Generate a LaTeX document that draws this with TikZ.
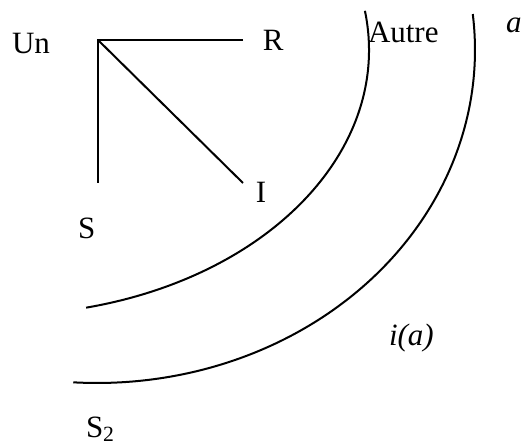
\documentclass[tikz,border=0pt]{standalone}
\usepackage{fontspec}
\setmainfont{Liberation Serif}

\begin{document}
\begin{tikzpicture}[x=0.5pt,y=0.5pt,line width=1pt,
  lbl/.style={inner sep=0pt,anchor=base west,font=\fontsize{15.5}{18}\selectfont}]
\useasboundingbox (0,0) rectangle (521,446);
% corner and its three branches
\coordinate (top) at (98,406);
\coordinate (rEnd) at (243,406);
\coordinate (sEnd) at (98,263);
\coordinate (iEnd) at (243,263);
\draw (rEnd) -- (top) -- (sEnd);
\draw (top) -- (iEnd);
% labels
\node[lbl] (un) at (11,393) {Un};
\node[lbl] (r) at (262,396) {R};
\node[lbl] (i) at (255,243) {I};
\node[lbl] (s) at (77,208) {S};
\node[lbl] (autre) at (367,404) {Autre};
\node[lbl] (a) at (505,414) {\itshape a};
\node[lbl] (ia) at (388,101) {\itshape i(a)};
\node[lbl] (s2) at (85,9) {S\textsubscript{2}};
% the two arcs
\coordinate (cIn) at (0,396);
\coordinate (cOut) at (97,396);
\draw (cIn) ++(8.5:369 and 265) arc[start angle=8.5,end angle=-76.5,x radius=369,y radius=265];
\draw (cOut) ++(6.2:378 and 333) arc[start angle=6.2,end angle=-93.6,x radius=378,y radius=333];
\end{tikzpicture}
\end{document}
